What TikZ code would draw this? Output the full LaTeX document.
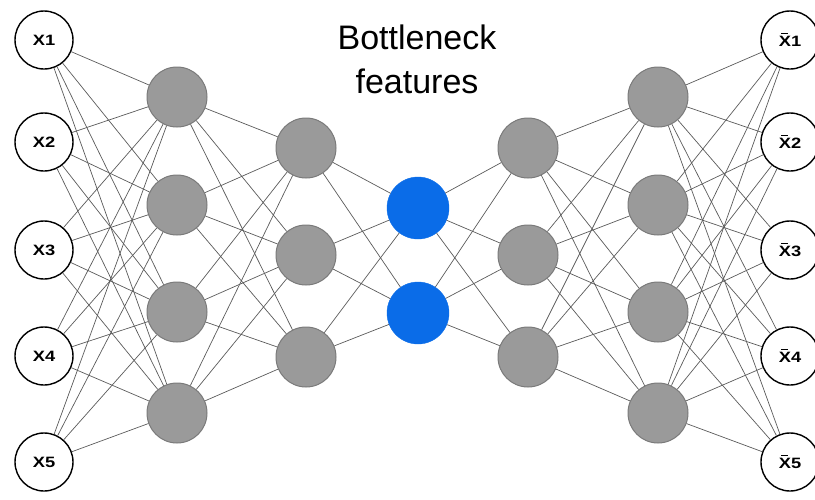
\documentclass[tikz,border=0pt]{standalone}
\usepackage{fontspec}
\setmainfont{Liberation Sans}
\usetikzlibrary{positioning}
\definecolor{unitgray}{HTML}{9A9A9A}
\definecolor{unitedge}{HTML}{7A7A7A}
\definecolor{codeblue}{HTML}{0A6CE8}
\definecolor{linkgray}{HTML}{5A5A5A}
% X with a bar over it, for the decoded outputs
\newcommand\xhat{\leavevmode\rlap{\hbox to \fontcharwd\font`X{\hss\raisebox{1.2\fontcharht\font`X}{\rule{0.38em}{0.09em}}\hss}}X}
\newcommand\unitlabel[1]{\scalebox{1.22}[1]{#1}}

\begin{document}
\begin{tikzpicture}[x=1pt,y=-1pt,
  io/.style={circle,draw=black,line width=1.4pt,fill=white,minimum size=58pt,inner sep=0pt,font=\fontsize{15}{15}\selectfont\bfseries},
  hid/.style={circle,draw=unitedge,line width=1pt,fill=unitgray,minimum size=60pt,inner sep=0pt},
  code/.style={circle,draw=codeblue,fill=codeblue,minimum size=62pt,inner sep=0pt},
  link/.style={draw=linkgray,line width=0.7pt}]
\useasboundingbox (0,0) rectangle (815,499);
% inputs and outputs
\foreach \i/\y in {1/40,2/142,3/250,4/356,5/462} {
  \node[io] (in\i) at (44,\y) {\unitlabel{X\i}};
  \node[io] (out\i) at (790,\y) {\unitlabel{\xhat\i}};
}
% encoder / decoder hidden layers
\foreach \i/\y in {1/97,2/205,3/312,4/413} {
  \node[hid] (ea\i) at (177,\y) {};
  \node[hid] (db\i) at (658,\y) {};
}
\foreach \i/\y in {1/148,2/255,3/357} {
  \node[hid] (eb\i) at (306,\y) {};
  \node[hid] (da\i) at (528,\y) {};
}
% bottleneck
\foreach \i/\y in {1/208,2/313} \node[code] (z\i) at (418,\y) {};
% links
\foreach \a in {1,...,5} \foreach \b in {1,...,4} {\draw[link] (in\a) -- (ea\b); \draw[link] (db\b) -- (out\a);}
\foreach \a in {1,...,4} \foreach \b in {1,...,3} {\draw[link] (ea\a) -- (eb\b); \draw[link] (da\b) -- (db\a);}
\foreach \a in {1,...,3} \foreach \b in {1,2} {\draw[link] (eb\a) -- (z\b); \draw[link] (z\b) -- (da\a);}
% title
\node[font=\fontsize{34}{44}\selectfont,align=center,inner sep=0pt] (title) at (417,59) {Bottleneck\\features};
\end{tikzpicture}
\end{document}
